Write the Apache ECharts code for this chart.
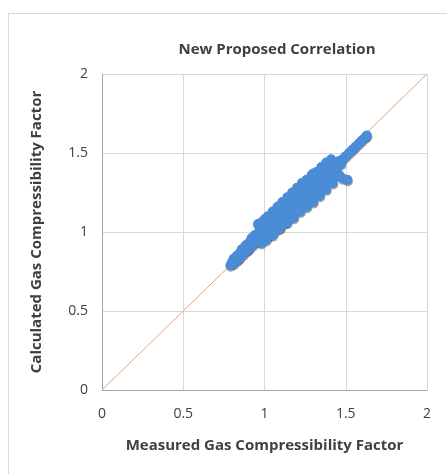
<!DOCTYPE html>
<html>
<head>
<meta charset="utf-8">
<script src="https://cdn.jsdelivr.net/npm/echarts@6/dist/echarts.min.js"></script>
<style>
  html, body { margin: 0; padding: 0; background: #fff; }
  #chart { width: 447px; height: 474px; }
</style>
</head>
<body>
<div id="chart"></div>
<script>
// measured vs calculated Z
const lowBand = [
    [0.79, 0.79], [0.80, 0.81], [0.81, 0.80], [0.82, 0.83], [0.83, 0.82], [0.84, 0.85],
    [0.85, 0.84], [0.86, 0.87], [0.87, 0.86], [0.88, 0.89], [0.89, 0.88], [0.90, 0.91],
    [0.91, 0.90], [0.92, 0.93], [0.93, 0.92], [0.94, 0.95], [0.95, 0.94], [0.83, 0.85],
    [0.86, 0.89], [0.89, 0.92], [0.92, 0.96], [0.81, 0.83], [0.84, 0.83], [0.87, 0.88],
    [0.90, 0.89], [0.93, 0.94], [0.85, 0.87], [0.88, 0.91], [0.91, 0.94], [0.94, 0.98]
];
const upperEdge = [
    [0.96, 1.05], [0.98, 1.06], [1.00, 1.08], [1.02, 1.10], [1.05, 1.13], [1.08, 1.16],
    [1.11, 1.19], [1.14, 1.22], [1.17, 1.25], [1.20, 1.28], [1.23, 1.31], [1.26, 1.33],
    [1.29, 1.36], [1.32, 1.38], [1.35, 1.41], [1.38, 1.44], [1.41, 1.46]
];
const upperMid = [
    [0.98, 1.03], [1.03, 1.09], [1.08, 1.13], [1.13, 1.18], [1.18, 1.24], [1.23, 1.28],
    [1.28, 1.33], [1.33, 1.38], [1.38, 1.42], [1.00, 1.07], [1.05, 1.12], [1.10, 1.17],
    [1.15, 1.22], [1.20, 1.27], [1.25, 1.32], [1.30, 1.37], [1.35, 1.41]
];
const middle = [
    [0.96, 0.99], [0.99, 1.01], [1.01, 1.03], [1.04, 1.06], [1.07, 1.09], [1.10, 1.12],
    [1.13, 1.15], [1.16, 1.18], [1.19, 1.21], [1.22, 1.24], [1.25, 1.27], [1.28, 1.30],
    [1.31, 1.33], [1.34, 1.36], [1.37, 1.39], [1.40, 1.41], [0.97, 1.01], [1.01, 1.05],
    [1.06, 1.10], [1.11, 1.15], [1.16, 1.20], [1.21, 1.25], [1.26, 1.30], [1.31, 1.35],
    [1.36, 1.40]
];
const lowerMid = [
    [1.00, 0.97], [1.04, 1.00], [1.08, 1.04], [1.12, 1.08], [1.16, 1.12], [1.20, 1.15],
    [1.24, 1.19], [1.28, 1.23], [1.32, 1.27], [1.36, 1.31], [1.40, 1.35], [0.99, 0.98],
    [1.03, 1.02], [1.07, 1.06], [1.11, 1.10], [1.15, 1.14], [1.19, 1.18], [1.23, 1.22],
    [1.27, 1.26], [1.31, 1.30], [1.35, 1.34], [1.39, 1.38]
];
const lowerEdge = [
    [0.98, 0.93], [1.02, 0.97], [1.06, 1.00], [1.10, 1.03], [1.14, 1.06], [1.18, 1.09],
    [1.22, 1.13], [1.26, 1.16], [1.30, 1.19], [1.34, 1.23], [1.38, 1.27], [1.42, 1.31],
    [1.45, 1.36], [1.01, 0.95], [1.05, 0.98], [1.09, 1.02], [1.13, 1.06], [1.17, 1.10],
    [1.21, 1.14], [1.25, 1.18], [1.29, 1.21], [1.33, 1.25], [1.37, 1.29], [1.41, 1.33]
];
const topBand = [
    [1.43, 1.42], [1.45, 1.43], [1.46, 1.45], [1.48, 1.46], [1.50, 1.48], [1.52, 1.50],
    [1.54, 1.52], [1.56, 1.54], [1.58, 1.56], [1.60, 1.58], [1.62, 1.60], [1.63, 1.61],
    [1.44, 1.40], [1.47, 1.43]
];
const bump = [[1.48, 1.34], [1.51, 1.33], [1.46, 1.36]];
const parityLine = [[0, 0], [2, 2]];
const tickVals = [0, 0.5, 1, 1.5, 2];

const points = [].concat(lowBand, upperEdge, upperMid, middle, lowerMid, lowerEdge, topBand, bump);

const chart = echarts.init(document.getElementById('chart'));
const txt = '#404040';
const fontFam = '"Open Sans", "Liberation Sans", sans-serif';

function axisOpt(name, gap, rotate) {
    return {
        type: 'value', min: 0, max: 2, interval: 0.5,
        name: name, nameLocation: 'middle', nameGap: gap, nameRotate: rotate,
        nameTextStyle: { color: '#404040', fontSize: 15, fontWeight: 'bold', fontFamily: fontFam },
        axisLine: { show: true, lineStyle: { color: '#a6a6a6', width: 1 } },
        axisTick: { show: false },
        axisLabel: {
            color: txt, fontSize: 14, fontFamily: fontFam, margin: 17,
            formatter: v => tickVals.includes(v) ? String(v) : ''
        },
        splitLine: { show: true, lineStyle: { color: '#d9d9d9', width: 1 } }
    };
}
// y labels sit closer to the axis than x labels
const yAxisOpt = axisOpt('Calculated Gas Compressibility Factor', 58, 90);
yAxisOpt.axisLabel.margin = 14;

chart.setOption({
    animation: false,
    backgroundColor: '#fff',
    graphic: [{
        type: 'rect', shape: { x: 8.5, y: 13.5, width: 460, height: 480 },
        style: { fill: 'none', stroke: '#d9d9d9', lineWidth: 1 }, z: -10
    }],
    title: {
        text: 'New Proposed Correlation', left: 272, top: 37, textAlign: 'center',
        textStyle: { color: '#404040', fontSize: 15, fontWeight: 'bold', fontFamily: fontFam }
    },
    grid: { left: 102, right: 20, top: 74, bottom: 84 },
    xAxis: axisOpt('Measured Gas Compressibility Factor', 48, 0),
    yAxis: yAxisOpt,
    series: [
        {
            type: 'line', data: parityLine, showSymbol: false, z: 1,
            lineStyle: { color: '#e8a27a', width: 1 }
        },
        {
            // soft dark shadow under the markers
            type: 'scatter', data: points, symbol: 'circle', symbolSize: 10, z: 2,
            symbolOffset: [0.5, 1.5], silent: true,
            itemStyle: { color: '#2a3442', opacity: 0.45 }
        },
        {
            type: 'scatter', data: points, symbol: 'circle', symbolSize: 10, z: 3,
            itemStyle: { color: '#4a8cd6', opacity: 1 }
        }
    ]
});
</script>
</body>
</html>
